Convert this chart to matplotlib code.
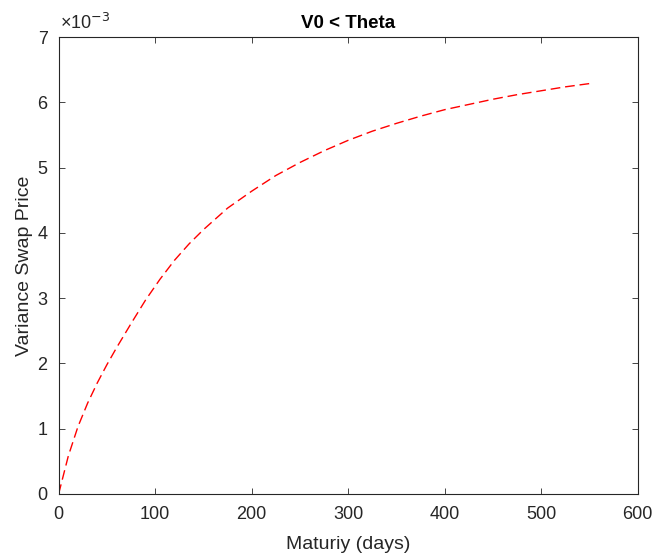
import numpy as np
import matplotlib
matplotlib.use("Agg")
import matplotlib.pyplot as plt
from matplotlib.ticker import FuncFormatter

# maturity in days and variance swap price (in 1e-3 units)
maturity_days = [0, 10, 20, 30, 40, 50, 60, 75, 90, 105, 120, 135, 150, 175,
                 200, 225, 250, 275, 300, 325, 350, 375, 400, 425, 450, 475,
                 500, 525, 550]
swap_price = [0.0, 0.58, 1.03, 1.39, 1.70, 1.98, 2.24, 2.61, 2.97, 3.29, 3.58,
              3.83, 4.05, 4.38, 4.64, 4.88, 5.08, 5.26, 5.42, 5.56, 5.68,
              5.79, 5.89, 5.97, 6.05, 6.12, 6.18, 6.24, 6.29]
swap_price = np.array(swap_price) * 1e-3

x_ticks = [0, 100, 200, 300, 400, 500, 600]
y_ticks = np.arange(0, 8) * 1e-3

plt.rcParams["font.family"] = "Liberation Sans"
plt.rcParams["mathtext.fontset"] = "custom"
plt.rcParams["mathtext.rm"] = "Liberation Sans"
plt.rcParams["mathtext.it"] = "Liberation Sans"

axcol = "#262626"

fig = plt.figure(figsize=(6.57, 5.54), dpi=100)
ax = fig.add_axes([0.0893, 0.1087, 0.9706 - 0.0893, 0.9327 - 0.1087])

ax.plot(maturity_days, swap_price, color="red", linewidth=1.0,
        linestyle=(0, (7, 3.5)))

ax.set_xlim(0, 600)
ax.set_ylim(0, 7e-3)
ax.set_xticks(x_ticks)
ax.set_yticks(y_ticks)
ax.yaxis.set_major_formatter(FuncFormatter(lambda v, p: "%g" % round(v * 1e3, 6)))

ax.tick_params(direction="in", top=True, right=True, length=4, width=0.6,
               colors=axcol, labelsize=13)
ax.tick_params(axis="x", pad=9)
ax.tick_params(axis="y", pad=8)
for sp in ax.spines.values():
    sp.set_color(axcol)
    sp.set_linewidth(0.8)

ax.text(0.002, 1.01, r"$\times 10^{\mathsf{-3}}$", transform=ax.transAxes,
        fontsize=13, color=axcol, ha="left", va="bottom")

ax.set_title("V0 < Theta", fontsize=13.5, fontweight="bold", color="black", pad=7)
ax.set_xlabel("Maturiy (days)", fontsize=14, color=axcol, labelpad=9)
ax.set_ylabel("Variance Swap Price", fontsize=14, color=axcol, labelpad=3)

fig.savefig("out.png", dpi=100)
